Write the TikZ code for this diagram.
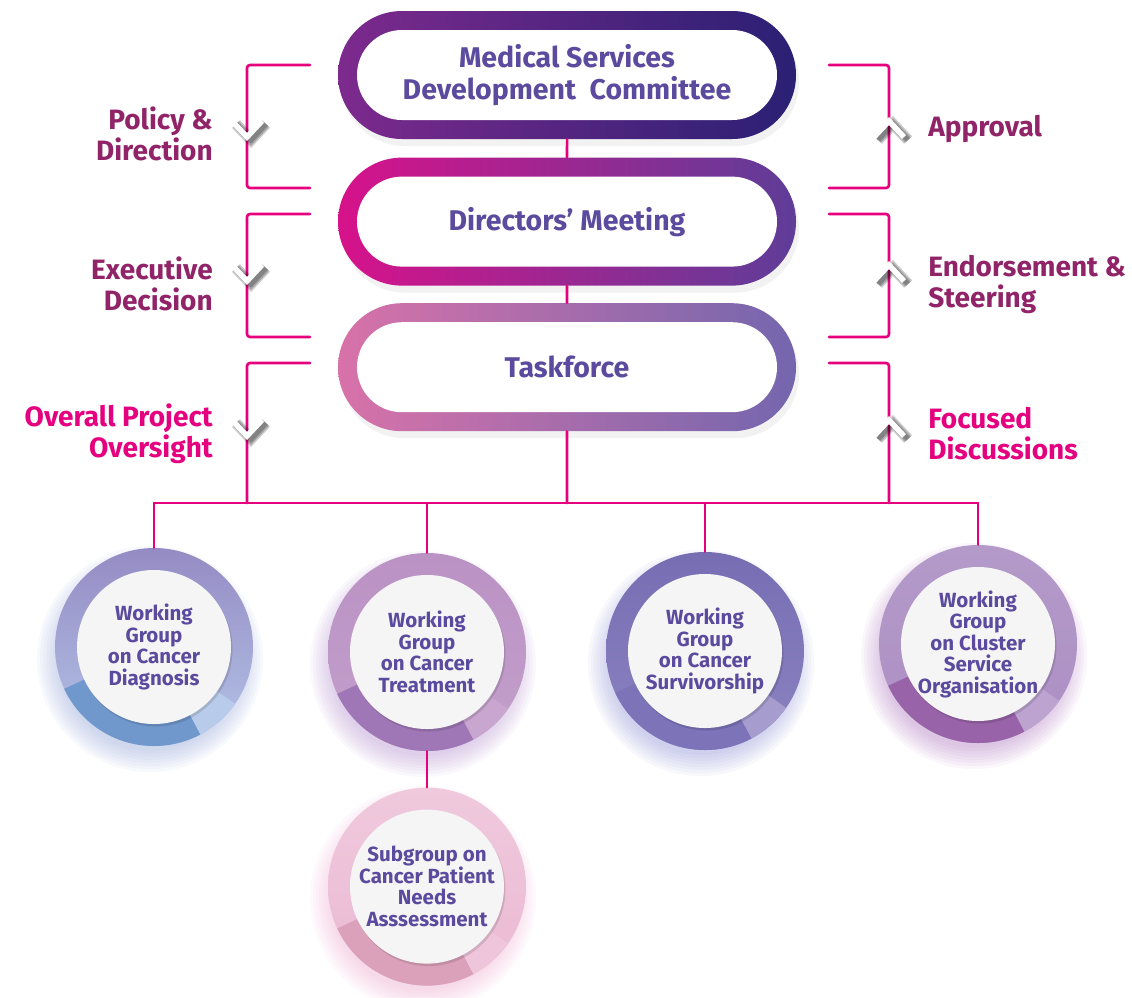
\documentclass[tikz,border=0pt]{standalone}
\usepackage{fontspec}
\setmainfont{Fira Sans}
\usepackage{xcolor}
\definecolor{magline}{HTML}{E6007E}
\definecolor{txtpurple}{HTML}{5B4A9E}
\definecolor{lbldark}{HTML}{912468}
\definecolor{lblbright}{HTML}{E4007F}
\definecolor{msdcL}{HTML}{7D2A8D}
\definecolor{msdcR}{HTML}{2A2074}
\definecolor{dmL}{HTML}{D7128B}
\definecolor{dmR}{HTML}{5E3D98}
\definecolor{tfL}{HTML}{D872A9}
\definecolor{tfR}{HTML}{7466AE}
\definecolor{diagT}{HTML}{958BC4}\definecolor{diagB}{HTML}{B3C4E7}\definecolor{diagD}{HTML}{7098CC}\definecolor{diagL}{HTML}{B9CBEA}\definecolor{diagG}{HTML}{8FA0DA}
\definecolor{treatT}{HTML}{BA92C4}\definecolor{treatB}{HTML}{C3A0CB}\definecolor{treatD}{HTML}{9F77B6}\definecolor{treatL}{HTML}{C8A6CF}\definecolor{treatG}{HTML}{B28AD0}
\definecolor{survT}{HTML}{776DB3}\definecolor{survB}{HTML}{8C83C1}\definecolor{survD}{HTML}{7D73B9}\definecolor{survL}{HTML}{A69CCE}\definecolor{survG}{HTML}{8A8FD8}
\definecolor{clusT}{HTML}{B39AC9}\definecolor{clusB}{HTML}{AD8FC4}\definecolor{clusD}{HTML}{9863A9}\definecolor{clusL}{HTML}{BCA3D0}\definecolor{clusG}{HTML}{B070C0}
\definecolor{subgT}{HTML}{F0C9DD}\definecolor{subgB}{HTML}{EAB9D2}\definecolor{subgD}{HTML}{DCA1BA}\definecolor{subgL}{HTML}{EEC5DA}\definecolor{subgG}{HTML}{F3A6CC}
\usetikzlibrary{positioning,shapes.misc,shadows,backgrounds}

\begin{document}
\begin{tikzpicture}[x=1pt, y=-1pt, line cap=round, semithick]
   \tikzstyle{pill}=[rounded rectangle, minimum width=458pt, minimum height=128pt, inner sep=0pt, text=txtpurple, align=center, font=\bfseries\fontsize{28.5}{32}\selectfont, drop shadow={opacity=.1, shadow xshift=3pt, shadow yshift=-7pt},
      path picture={\fill[white, rounded corners=45pt] ([shift={(19pt,19pt)}]path picture bounding box.south west) rectangle ([shift={(-19pt,-19pt)}]path picture bounding box.north east);}]
   \tikzstyle{lbl}=[inner sep=0pt, text=lbldark, font=\bfseries\fontsize{28}{31}\selectfont]
   \tikzstyle{link}=[draw=magline, line width=2.6pt]
   \tikzstyle{bracket}=[draw=magline, line width=2.6pt, rounded corners=3pt]
   \tikzstyle{chevshade}=[draw=black, line width=#1, opacity=.2, line cap=butt, shift={(4pt,-3pt)}]
   \tikzstyle{chev}=[draw=white, line width=5.5pt, line cap=butt]
   \tikzset{wg/.style n args={4}{circle, minimum size=198pt, inner sep=0pt, top color=#1, bottom color=#2, text=txtpurple, align=center, font=\bfseries\fontsize{20.5}{21.5}\selectfont,
      path picture={
        \fill[#3] (path picture bounding box.center) -- ++(205:100pt) arc[start angle=205, end angle=298, radius=100pt] -- cycle;
        \fill[#4] (path picture bounding box.center) -- ++(298:100pt) arc[start angle=298, end angle=325, radius=100pt] -- cycle;
        \fill[black, opacity=.12] ([shift={(1.5pt,-2.5pt)}]path picture bounding box.center) circle[radius=77pt];
        \fill[white!96!black] (path picture bounding box.center) circle[radius=77pt];}}}

   \useasboundingbox (0,0) rectangle (1132,997);
   \begin{scope}[on background layer]
      \fill[white] (0,0) rectangle (1132,997);
   \end{scope}

   % committee chain
   \node[pill, left color=msdcL, right color=msdcR] (msdc) at (567,75) {Medical Services\\Development\ \ Committee};
   \node[pill, left color=dmL, right color=dmR] (dm) [below=18pt of msdc] {Directors’ Meeting};
   \node[pill, left color=tfL, right color=tfR] (tf) [below=17pt of dm] {Taskforce};

   % working groups
   \node[wg={diagT}{diagB}{diagD}{diagL}] (diag) at (154,647) {Working\\Group\\on Cancer\\Diagnosis};
   \node[wg={treatT}{treatB}{treatD}{treatL}] (treat) at (427,652) {Working\\Group\\on Cancer\\Treatment};
   \node[wg={survT}{survB}{survD}{survL}] (surv) at (705,651) {Working\\Group\\on Cancer\\Survivorship};
   \node[wg={clusT}{clusB}{clusD}{clusL}] (clus) at (978,644) {Working\\Group\\on Cluster\\Service\\Organisation};
   \node[wg={subgT}{subgB}{subgD}{subgL}] (subg) [below=36pt of treat] {Subgroup on\\Cancer Patient\\Needs\\Asssessment};

   \begin{scope}[on background layer]
      \foreach \n/\g in {diag/diagG, treat/treatG, surv/survG, clus/clusG, subg/subgG}
         \foreach \r in {92,95,...,113}
            \fill[\g, opacity=.06] ([shift={(-4pt,-12pt)}]\n.center) circle[radius=\r pt];
   \end{scope}

   % side labels
   \node[lbl, anchor=east, align=right] (policy) at (213,134) {Policy \&\\Direction};
   \node[lbl, anchor=east, align=right] (exec) at (213,284) {Executive\\Decision};
   \node[lbl, anchor=east, align=right, text=lblbright] (oversight) at (213,434) {Overall Project\\Oversight};
   \node[lbl, anchor=west] (approval) at (928,129) {Approval};
   \node[lbl, anchor=west, align=left] (endorse) at (928,284) {Endorsement \&\\Steering};
   \node[lbl, anchor=west, align=left, text=lblbright] (focused) at (928,434) {Focused\\Discussions};

   % connectors
   \coordinate (bus) at (567,503);
   \draw[link] (msdc) -- (dm);
   \draw[link] (dm) -- (tf);
   \draw[link] (tf) -- (bus);
   \draw[link] (diag) |- (bus) -| (clus);
   \draw[link] (treat) -- (treat |- bus);
   \draw[link] (surv) -- (surv |- bus);
   \draw[link] (treat) -- (subg);

   % brackets
   \foreach \ya/\yb in {65/188, 214/337} {
      \draw[bracket] (310,\ya) -- (247,\ya) -- (247,\yb) -- (310,\yb);
      \draw[bracket] (829,\ya) -- (889,\ya) -- (889,\yb) -- (829,\yb);
   }
   \draw[bracket] (310,363) -- (247,363) -- (247,503);
   \draw[bracket] (829,363) -- (889,363) -- (889,503);

   % chevrons
   \foreach \y in {129,273,428} {
      \foreach \w in {11pt,8pt,5pt} {
         \draw[chevshade=\w] (232,{\y-8}) -- (247,{\y+8}) -- (262,{\y-8});
         \draw[chevshade=\w] (874,{\y+8}) -- (889,{\y-8}) -- (904,{\y+8});
      }
      \draw[chev] (232,{\y-8}) -- (247,{\y+8}) -- (262,{\y-8});
      \draw[chev] (874,{\y+8}) -- (889,{\y-8}) -- (904,{\y+8});
   }
\end{tikzpicture}
\end{document}
